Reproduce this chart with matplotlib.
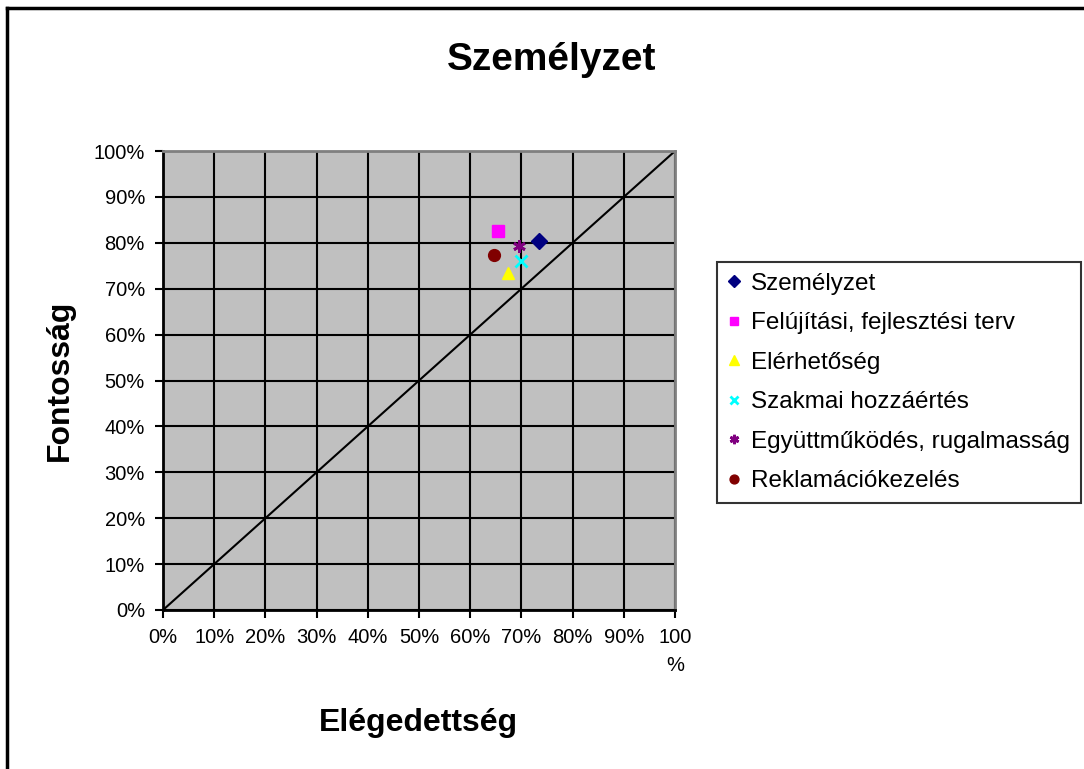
import matplotlib.pyplot as plt
from matplotlib.lines import Line2D

plt.rcParams['font.family'] = ['Liberation Sans', 'DejaVu Sans']

# adatok (elégedettség, fontosság)
nevek = ['Személyzet', 'Felújítási, fejlesztési terv', 'Elérhetőség',
         'Szakmai hozzáértés', 'Együttműködés, rugalmasság', 'Reklamációkezelés']
elegedettseg = [0.734, 0.655, 0.674, 0.699, 0.695, 0.647]
fontossag = [0.804, 0.826, 0.734, 0.761, 0.792, 0.773]
markerek = ['D', 's', '^', 'x', (6, 2, 0), 'o']
szinek = ['#000080', '#FF00FF', '#FFFF00', '#00FFFF', '#800080', '#800000']
meretek = [8, 8.5, 9, 8, 9, 8.5]

ticks = [i / 10 for i in range(11)]
xcimkek = ['0%', '10%', '20%', '30%', '40%', '50%', '60%', '70%', '80%', '90%', '100\n%']
ycimkek = ['0%', '10%', '20%', '30%', '40%', '50%', '60%', '70%', '80%', '90%', '100%']

fig = plt.figure(figsize=(10.84, 7.69), dpi=100)

# keret a kép körül
fig.add_artist(Line2D([0.0065, 0.0065], [-0.1, 0.9895], color='black', lw=2.5, transform=fig.transFigure))
fig.add_artist(Line2D([0.0065, 1.1], [0.9895, 0.9895], color='black', lw=2.5, transform=fig.transFigure))

ax = fig.add_axes([0.1504, 0.2068, 0.4723, 0.5968])
ax.set_facecolor('#C0C0C0')
ax.set_xlim(0, 1)
ax.set_ylim(0, 1)

ax.grid(True, color='black', lw=1.5)
ax.set_axisbelow(True)
ax.plot([0, 1], [0, 1], color='black', lw=1.5, zorder=2)

for x, y, m, c, s, n in zip(elegedettseg, fontossag, markerek, szinek, meretek, nevek):
    if m == 'x' or m == (6, 2, 0):
        ax.plot(x, y, ls='none', marker=m, color=c, ms=s, mew=2, label=n, zorder=3)
    else:
        ax.plot(x, y, ls='none', marker=m, color=c, ms=s, mec=c, label=n, zorder=3)

ax.set_xticks(ticks)
ax.set_xticklabels(xcimkek)
ax.set_yticks(ticks)
ax.set_yticklabels(ycimkek)
ax.tick_params(direction='out', length=6, width=1.5, colors='black', labelsize=14.5, pad=7)
ax.get_xticklabels()[-1].set_linespacing(1.6)

for s in ['left', 'bottom']:
    ax.spines[s].set_color('black')
    ax.spines[s].set_linewidth(2)
for s in ['top', 'right']:
    ax.spines[s].set_color('#808080')
    ax.spines[s].set_linewidth(2)

fig.text(0.509, 0.922, 'Személyzet', ha='center', va='center', fontsize=28, fontweight='bold')
fig.text(0.386, 0.06, 'Elégedettség', ha='center', va='center', fontsize=23, fontweight='bold')
fig.text(0.055, 0.506, 'Fontosság', ha='center', va='center', rotation=90, fontsize=23, fontweight='bold')

leg = ax.legend(loc='upper left', bbox_to_anchor=(0.6615, 0.6595), bbox_transform=fig.transFigure,
                fontsize=17.5, frameon=True, fancybox=False, edgecolor='black',
                handlelength=0.5, handletextpad=0.45, labelspacing=0.72, borderpad=0.45,
                borderaxespad=0, markerscale=0.75)
leg.get_frame().set_linewidth(1.5)

fig.savefig('out.png', dpi=100)
